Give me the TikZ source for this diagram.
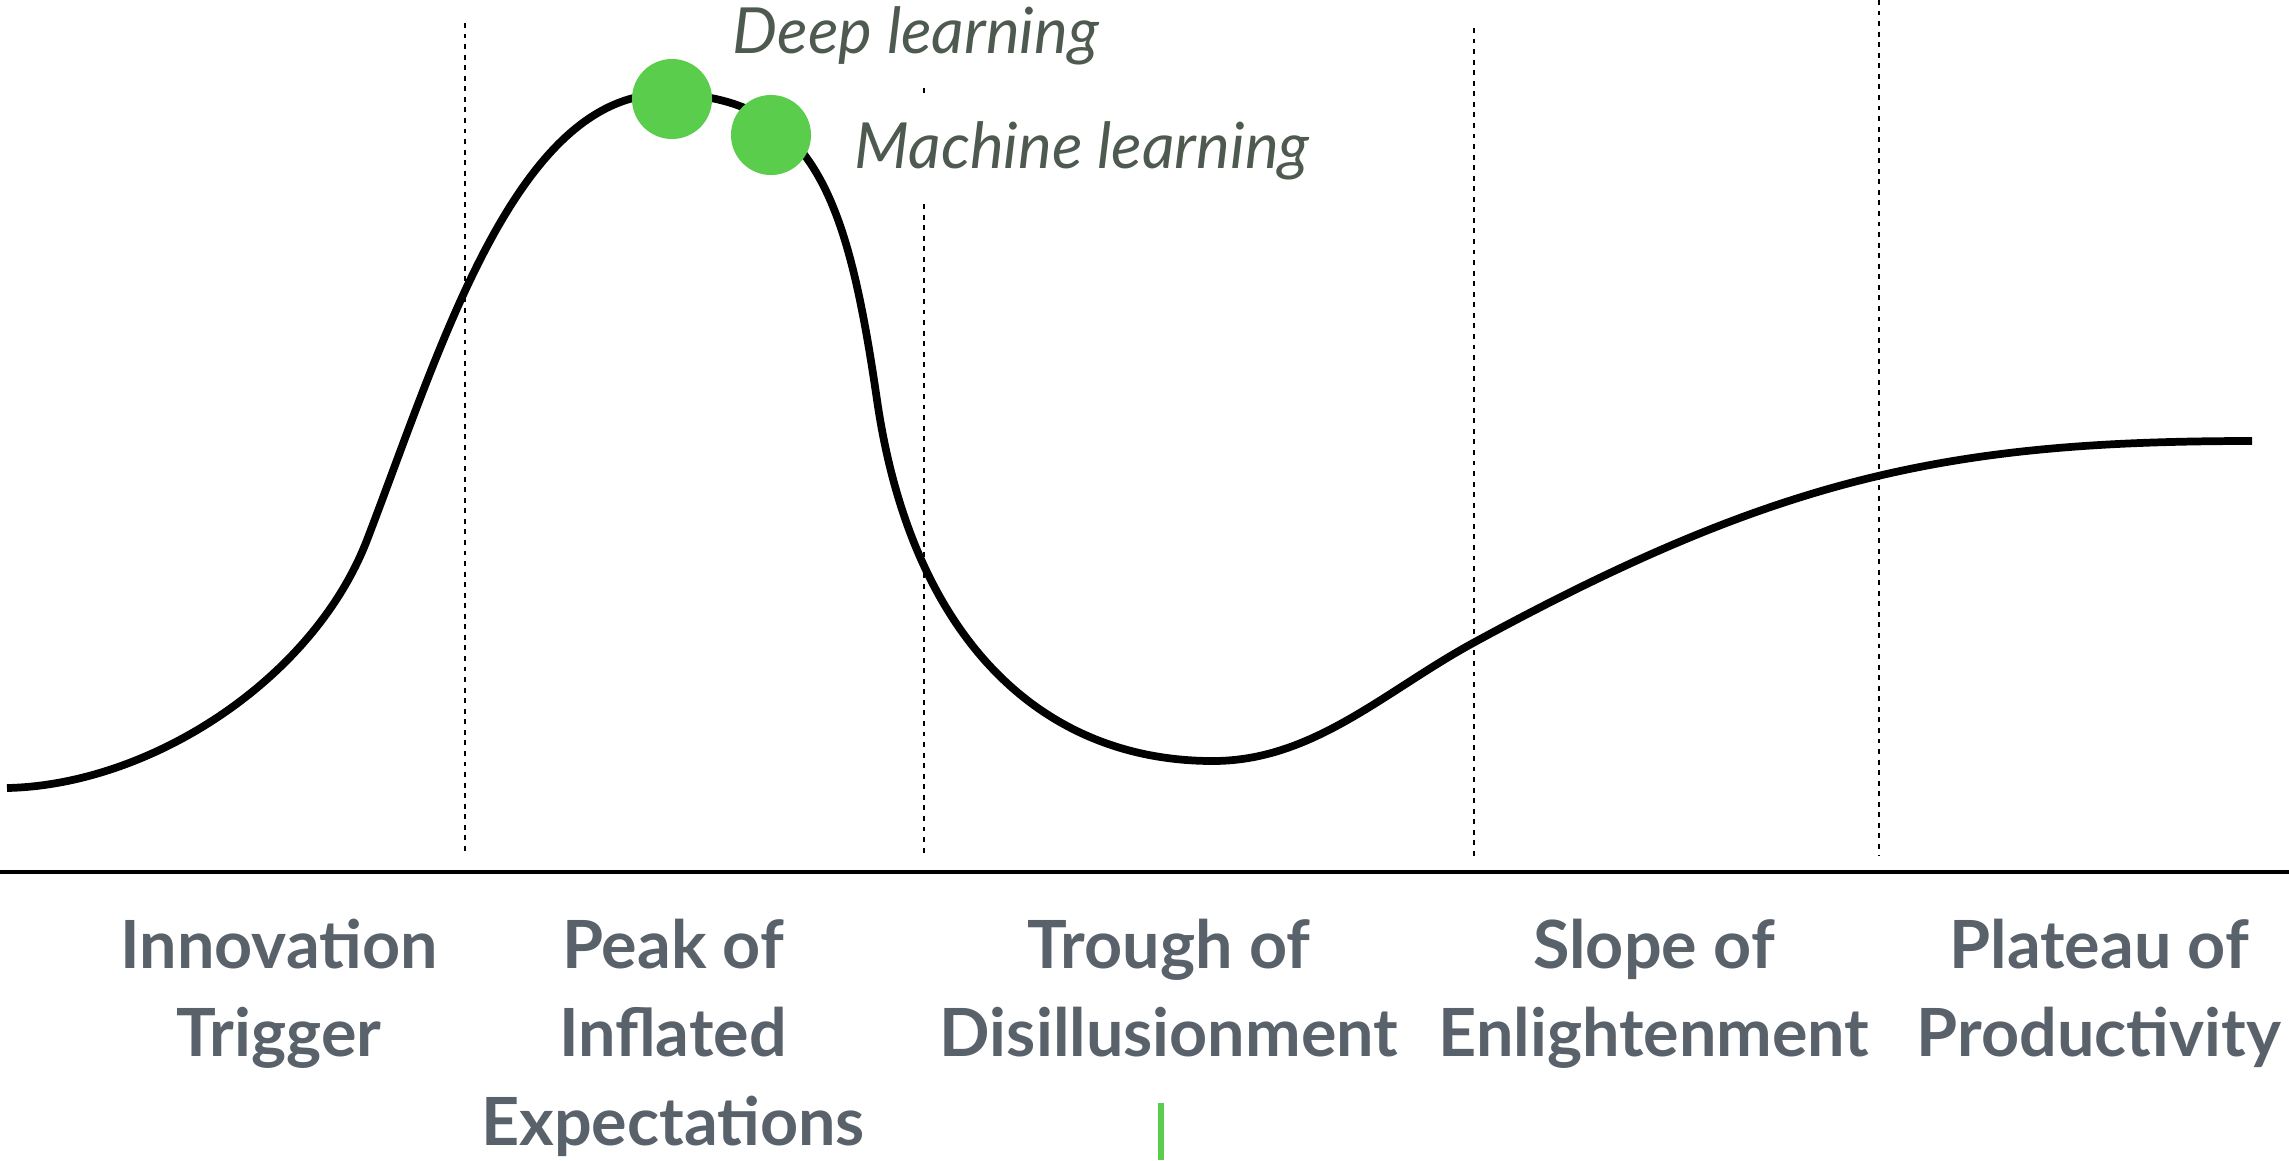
\documentclass[tikz,border=0pt]{standalone}
\usepackage{fontspec}
\setmainfont{Lato}
\usepackage{tikz}
\usepackage{xcolor}

\definecolor{hypegreen}{RGB}{90,205,76}
\definecolor{phasegray}{RGB}{89,98,106}
\definecolor{techgray}{RGB}{78,90,80}

\begin{document}
\begin{tikzpicture}[x=0.01cm, y=-0.01cm,
        phase/.style={align=center, anchor=north, inner sep=0pt, text=phasegray,
            font=\bfseries\fontsize{18.9}{25.2}\selectfont},
        tech/.style={anchor=base west, inner sep=0pt, text=techgray,
            font=\itshape\fontsize{18.1}{20}\selectfont},
        hype/.style={circle, fill=hypegreen, minimum size=0.8cm, inner sep=0pt},
        divider/.style={line width=0.8pt, dash pattern=on 1.4pt off 1.6pt}]
        \useasboundingbox (0,0) rectangle (2289,1160);
        % Phase dividers and time axis
        \foreach \x/\t in {465/23, 924/88, 1474/28, 1879/0} {
            \draw[divider] (\x,\t) -- (\x,856);
        }
        \draw[line width=1pt] (0,872) -- (2289,872);
        % Hype curve
        \draw[line width=2.2pt] (7,788) .. controls (150,785) and (313,680) .. (367,540)
            .. controls (439,353) and (515,94) .. (665,94)
            .. controls (815,94) and (848,202) .. (877,400)
            .. controls (910,628) and (1033,761) .. (1213,761)
            .. controls (1313,761) and (1385,691) .. (1473,643)
            .. controls (1781,475) and (1952,441) .. (2252,441);
        % Technologies on the curve
        \node[hype] (dl) at (672,99) {};
        \node[hype] (ml) at (771,135) {};
        \node[tech] (dltext) at (732,53) {Deep learning};
        \node[tech, fill=white, inner ysep=0.23cm] (mltext) at (854,168) {Machine learning};
        % Phase names
        \node[phase] (trigger) at (279,918) {Innovation\\Trigger};
        \node[phase] (peak) at (673,918) {Peak of\\Inflated\\Expectations};
        \node[phase] (trough) at (1169,918) {Trough of\\Disillusionment};
        \node[phase] (slope) at (1654,918) {Slope of\\Enlightenment};
        \node[phase] (plateau) at (2099,918) {Plateau of\\Productivity};
        \draw[hypegreen, line width=1.5pt] (1161,1103) -- (1161,1160);
    \end{tikzpicture}
\end{document}
